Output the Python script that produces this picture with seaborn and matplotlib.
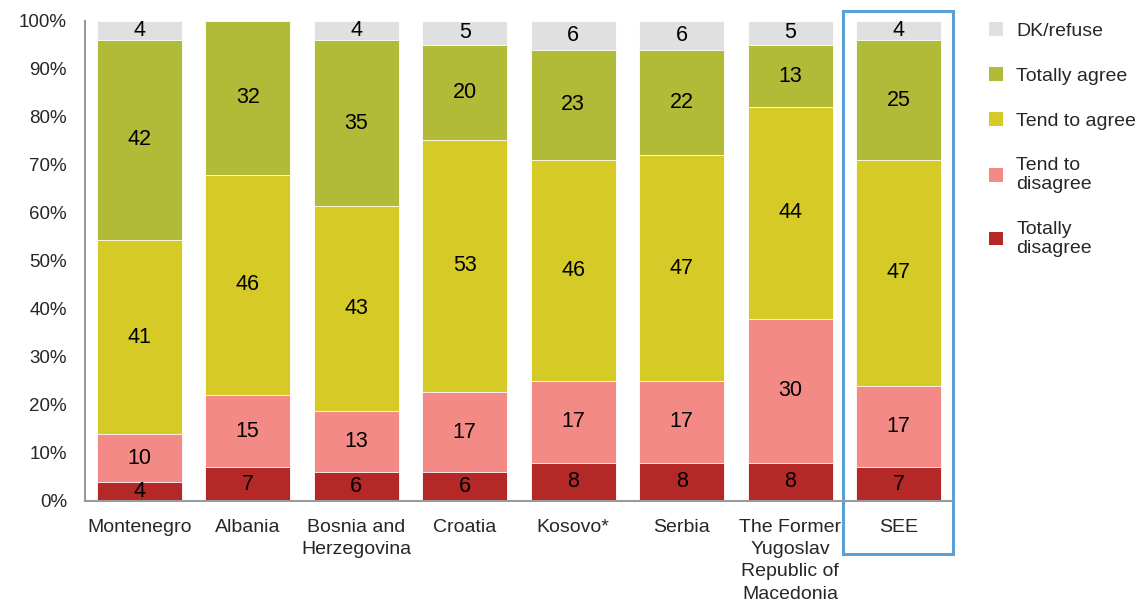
import numpy as np
import pandas as pd
import matplotlib
matplotlib.use("Agg")
import matplotlib.pyplot as plt
from matplotlib.patches import Rectangle, Patch
from matplotlib.ticker import FixedLocator, PercentFormatter
import seaborn as sns

# data (labels as printed, per country)
countries = ["Montenegro", "Albania", "Bosnia and\nHerzegovina", "Croatia",
             "Kosovo*", "Serbia", "The Former\nYugoslav\nRepublic of\nMacedonia", "SEE"]
totally_disagree = [4, 7, 6, 6, 8, 8, 8, 7]
tend_disagree = [10, 15, 13, 17, 17, 17, 30, 17]
tend_agree = [41, 46, 43, 53, 46, 47, 44, 47]
totally_agree = [42, 32, 35, 20, 23, 22, 13, 25]
dk_refuse = [4, 0, 4, 5, 6, 6, 5, 4]

series_names = ["Totally\ndisagree", "Tend to\ndisagree", "Tend to agree", "Totally agree", "DK/refuse"]
colors = ["#b52828", "#f48a85", "#d6cb26", "#b1bb37", "#e0e0e0"]

df = pd.DataFrame({
    "Totally\ndisagree": totally_disagree,
    "Tend to\ndisagree": tend_disagree,
    "Tend to agree": tend_agree,
    "Totally agree": totally_agree,
    "DK/refuse": dk_refuse,
}, index=countries)

# scale each row to 100%
share = df.div(df.sum(axis=1), axis=0) * 100
cum = share.cumsum(axis=1)

sns.set_style("white")
plt.rcParams["font.family"] = ["Liberation Sans", "DejaVu Sans"]

fig = plt.figure(figsize=(11.39, 6.03), dpi=100)
ax = fig.add_axes([0.0746, 0.1692, 0.7621, 0.796])

# draw cumulative bars from the top layer down so each segment shows
for name, col in reversed(list(zip(series_names, colors))):
    sns.barplot(x=countries, y=cum[name].values, order=countries, color=col,
                saturation=1, width=0.78, errorbar=None,
                edgecolor="white", linewidth=0.6, ax=ax)

# value labels in the middle of each segment
for i, c in enumerate(countries):
    base = 0
    for name in series_names:
        v = share.loc[c, name]
        if df.loc[c, name] > 0:
            ax.text(i, base + v / 2, str(df.loc[c, name]), ha="center", va="center",
                    fontsize=15.5, color="black")
        base += v

ax.set_ylim(0, 100)
ax.set_xlim(-0.5, len(countries) - 0.5)
ax.set_yticks(np.arange(0, 101, 10))
ax.yaxis.set_major_formatter(PercentFormatter(decimals=0))
ax.set_xlabel("")
ax.set_ylabel("")

ax.xaxis.set_minor_locator(FixedLocator(np.arange(-0.5, len(countries), 1)))
ax.tick_params(axis="x", which="major", length=0, pad=13, labelsize=14)
ax.tick_params(axis="x", which="minor", length=6, width=1.5, color="#9a9a9a", direction="out")
ax.tick_params(axis="y", length=6, width=1.5, color="#9a9a9a", direction="out", labelsize=13.5, pad=7)
for t in ax.get_xticklabels():
    t.set_verticalalignment("top")
    t.set_linespacing(1.4)

sns.despine(ax=ax)
for s in ["left", "bottom"]:
    ax.spines[s].set_color("#9a9a9a")
    ax.spines[s].set_linewidth(1.5)

# highlight box around SEE
ax.add_patch(Rectangle((len(countries) - 1.516, -0.11), 1.014, 1.131,
                       transform=ax.get_xaxis_transform(), fill=False,
                       edgecolor="#5a9fd6", linewidth=2.2, clip_on=False))

handles = [Patch(facecolor=c, edgecolor="none") for c in reversed(colors)]
fig.legend(handles, list(reversed(series_names)), loc="upper left",
           bbox_to_anchor=(0.853, 0.992), frameon=False, fontsize=14,
           handlelength=0.7, handleheight=0.7, handletextpad=0.7, labelspacing=1.4)

fig.savefig("out.png", dpi=100)
